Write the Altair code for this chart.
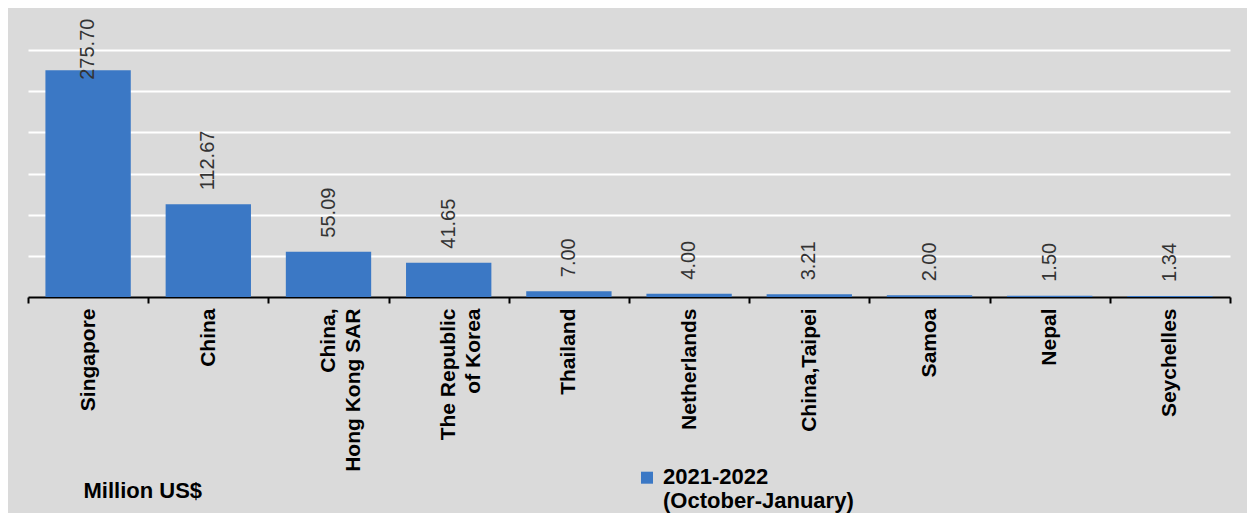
import altair as alt
import pandas as pd

countries = ["Singapore", "China", "China, Hong Kong SAR", "The Republic of Korea",
             "Thailand", "Netherlands", "China,Taipei", "Samoa", "Nepal", "Seychelles"]
values = [275.70, 112.67, 55.09, 41.65, 7.00, 4.00, 3.21, 2.00, 1.50, 1.34]
series = ["2021-2022 (October-January)"] * len(countries)
y_ticks = [50, 100, 150, 200, 250, 300]

df = pd.DataFrame({"country": countries, "value": values, "series": series})

BAR = "#3b78c5"
BG = "#dadada"
FONT = "Liberation Sans"

label_expr = ("datum.value == 'China, Hong Kong SAR' ? ['China,', 'Hong Kong SAR'] : "
              "datum.value == 'The Republic of Korea' ? ['The Republic', 'of Korea'] : datum.value")

x_scale = alt.Scale(paddingInner=0, paddingOuter=0)

x_enc = alt.X(
    "country:N", sort=countries, scale=x_scale,
    axis=alt.Axis(
        title="Million US$", titleX=55, titleY=183, titleAlign="left", titleBaseline="top",
        titleFont=FONT, titleFontSize=22, titleFontWeight="bold", titleColor="#000000",
        labelAngle=-90, labelFont=FONT, labelFontSize=21, labelFontWeight="bold",
        labelColor="#000000", labelPadding=5, labelLineHeight=25, labelExpr=label_expr,
        labelLimit=300,
        domainColor="#000000", domainWidth=2, tickColor="#000000", tickWidth=2, tickSize=6,
        tickBand="extent", grid=False,
    ),
)

y_scale = alt.Scale(domain=[0, 350], nice=False)

bars = alt.Chart(df).mark_bar(width=alt.RelativeBandSize(0.71)).encode(
    x=x_enc,
    y=alt.Y("value:Q", scale=y_scale,
            axis=alt.Axis(values=y_ticks, grid=True, gridColor="#ffffff", gridWidth=2,
                          labels=False, ticks=False, domain=False, title=None)),
    color=alt.Color("series:N", scale=alt.Scale(range=[BAR]),
                    legend=alt.Legend(
                        title=None, orient="none", legendX=608, legendY=464,
                        symbolType="M-1,-2.05H1V-0.05H-1Z", symbolSize=144,
                        symbolStrokeWidth=0, symbolOpacity=1,
                        labelFont=FONT, labelFontSize=22, labelFontWeight="bold",
                        labelColor="#000000", labelBaseline="alphabetic",
                        labelOffset=5, labelLimit=400, padding=0,
                        labelExpr="['2021-2022', '(October-January)']",
                    )),
)

labels = alt.Chart(df).transform_calculate(
    lab_y="min(datum.value, 247)"
).mark_text(
    angle=270, align="left", baseline="middle", dx=14,
    font=FONT, fontSize=20, color="#333333",
).encode(
    x=alt.X("country:N", sort=countries, scale=x_scale),
    y=alt.Y("lab_y:Q", scale=y_scale),
    text=alt.Text("value:Q", format=".2f"),
)

chart = alt.layer(bars, labels).properties(
    width=1202, height=288,
    background=BG,
    autosize=alt.AutoSizeParams(type="none"),
    padding={"left": 20, "top": 1, "right": 17, "bottom": 216},
).configure_view(stroke=None)

chart.save("out.html", embed_options={"renderer": "svg", "actions": False})
